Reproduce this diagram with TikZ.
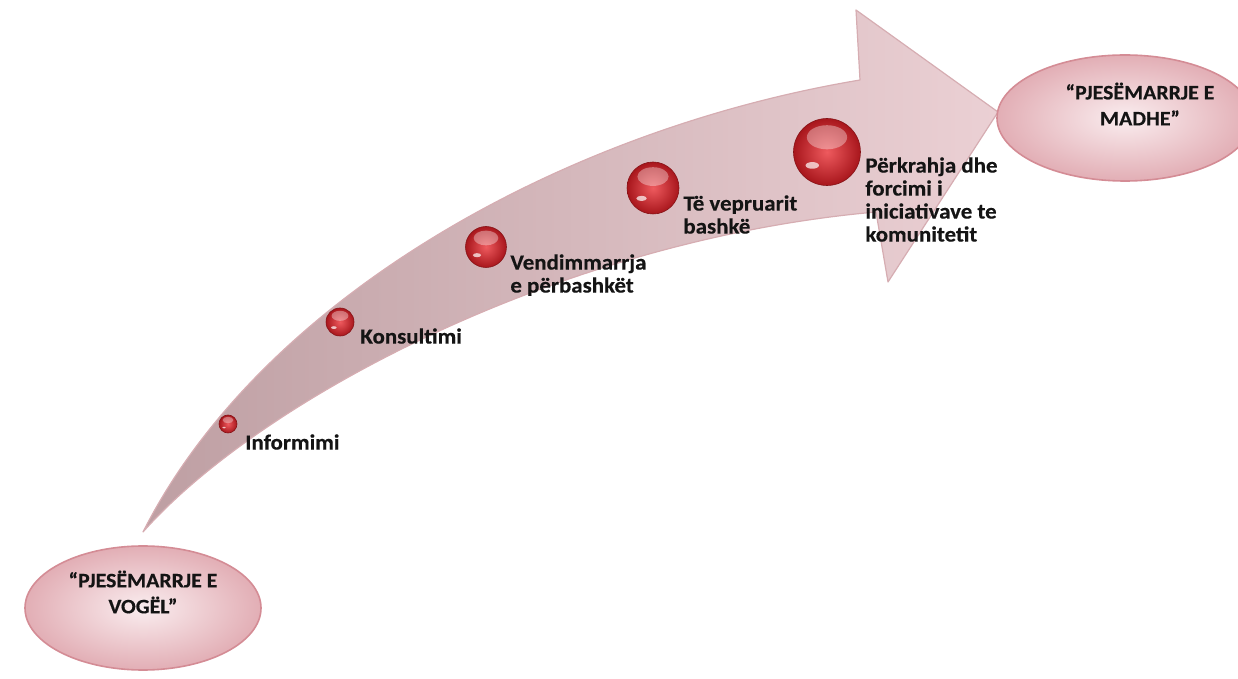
\documentclass[tikz,border=0pt]{standalone}
\usepackage{fontspec}
\newfontfamily\lblfont[FakeStretch=1.06, FakeBold=0.4]{Carlito}
\usetikzlibrary{calc, shapes.geometric}
\definecolor{ArrowDark}{HTML}{BE9FA3}
\definecolor{ArrowLight}{HTML}{EBD0D4}
\definecolor{ArrowEdge}{HTML}{D6ADB2}
\definecolor{BeadLight}{HTML}{EE5A5E}
\definecolor{BeadDark}{HTML}{A8161C}
\definecolor{PoleIn}{HTML}{FAEDEF}
\definecolor{PoleOut}{HTML}{E2AEB5}
\definecolor{PoleEdge}{HTML}{D48C95}
\definecolor{LabelInk}{HTML}{141414}
\NewDocumentCommand{\Bead}{m m m}{
    \node[bead=#3] (#1) at #2 {};
    \fill[white, opacity=0.35] ($(#1.center)+(0,-0.22*#3)$)
        ellipse [x radius=0.3*#3, y radius=0.18*#3];
    \fill[white, opacity=0.7] ($(#1.center)+(-0.22*#3,0.2*#3)$)
        ellipse [x radius=0.1*#3, y radius=0.05*#3];
}

\begin{document}
\begin{tikzpicture}[x=0.5pt, y=-0.5pt,
    lbl/.style={font=\lblfont\bfseries\fontsize{10.8pt}{11.5pt}\selectfont,
        text=LabelInk, align=left, anchor=north west, inner sep=0pt},
    poletext/.style={font=\lblfont\bfseries\fontsize{10.3pt}{13pt}\selectfont,
        text=LabelInk, align=center, inner sep=0pt},
    bead/.style={circle, inner color=BeadLight, outer color=BeadDark,
        draw=BeadDark!80!black, line width=0.3pt, inner sep=0pt, minimum size=#1*0.5pt},
    pole/.style={ellipse, draw=PoleEdge, line width=0.8pt,
        inner color=PoleIn, outer color=PoleOut, inner sep=0pt}]
\useasboundingbox (0,0) rectangle (1238,679);

% the arrow
\coordinate (tail) at (143,532);
\coordinate (notch-up) at (860,80);
\coordinate (head-up) at (856,10);
\coordinate (tip) at (998,112);
\coordinate (head-low) at (888,282);
\coordinate (notch-low) at (876,212);

\shade[left color=ArrowDark, right color=ArrowLight, draw=ArrowEdge,
    line width=0.6pt, line join=round]
    (tail) .. controls (260,300) and (560,130) .. (notch-up)
    -- (head-up) -- (tip) -- (head-low) -- (notch-low)
    .. controls (560,240) and (260,400) .. (tail) -- cycle;

% the two ends
\node[pole, minimum width=118pt, minimum height=62pt] (small) at (143,608) {};
\node[poletext] (small-text) at ($(small.center)+(0,-16)$) {“PJESËMARRJE E\\VOGËL”};

\node[pole, minimum width=128pt, minimum height=63pt] (big) at (1125,118) {};
\node[poletext] (big-text) at ($(big.center)+(15,-14)$) {“PJESËMARRJE E\\MADHE”};

% the steps
\Bead{b1}{(228,424)}{18}
\Bead{b2}{(340,322)}{28}
\Bead{b3}{(486,247)}{41}
\Bead{b4}{(653,188)}{52}
\Bead{b5}{(827,152)}{67}

\node[lbl] (informimi) at ($(b1)+(17,10)$) {Informimi};
\node[lbl] (konsultimi) at ($(b2)+(20,6)$) {Konsultimi};
\node[lbl] (vendimmarrja) at ($(b3)+(24,7)$) {Vendimmarrja\\e përbashkët};
\node[lbl] (vepruarit) at ($(b4)+(30,7)$) {Të vepruarit\\bashkë};
\node[lbl] (perkrahja) at ($(b5)+(38,5)$) {Përkrahja dhe\\forcimi i\\iniciativave te\\komunitetit};

\end{tikzpicture}
\end{document}
